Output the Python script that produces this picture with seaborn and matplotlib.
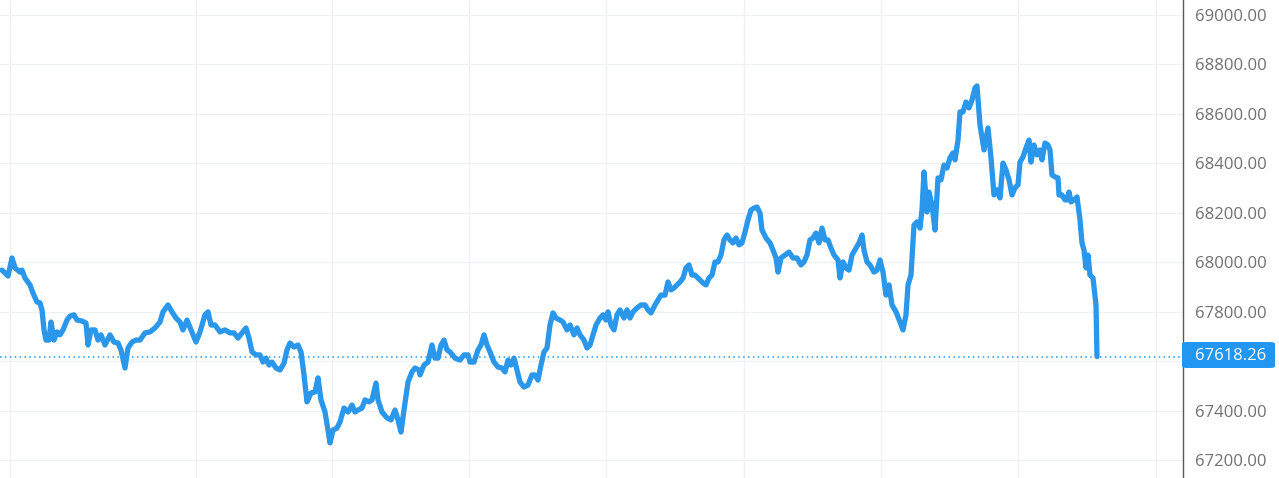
import matplotlib
matplotlib.use("Agg")
import matplotlib.pyplot as plt
from matplotlib.patches import FancyBboxPatch
import seaborn as sns
import pandas as pd

# ---- data (time index, price) ----
t = [2, 8, 12, 15, 20, 22, 25, 30, 33, 37, 40, 42, 44, 46, 49, 51, 54, 57, 60, 63,
     67, 70, 74, 77, 82, 86, 88, 91, 95, 98, 101, 105, 110, 114, 118, 121, 125, 128, 132, 136,
     140, 145, 150, 155, 160, 163, 168, 172, 176, 180, 183, 187, 191, 196, 200, 205, 208, 211, 215, 220,
     225, 230, 234, 238, 242, 246, 249, 252, 256, 260, 263, 266, 269, 272, 276,
     280, 284, 287, 290, 294, 298, 301, 304, 307, 311, 315, 318, 321, 325, 328, 330, 333, 337, 340, 344,
     348, 352, 355, 358, 362, 365, 369, 372, 376, 378, 382, 387, 391, 395, 398, 401, 404, 408, 412, 415, 419,
     420, 424, 428, 432, 435, 438, 441, 444, 447, 450, 455, 460, 464, 468, 470, 474, 478, 481, 484, 487,
     490, 494, 498, 502, 505, 508, 511, 514, 517, 520, 524, 528, 532, 535, 538, 541, 544, 547, 550, 553, 556,
     560, 563, 567, 570, 574, 577, 580, 584, 587, 590, 593, 596, 600, 603, 606, 608, 611, 614, 617, 620,
     624, 627, 630, 633, 637, 641, 645, 648, 651, 655, 658, 661, 665, 668, 671, 674, 677, 680, 683, 686,
     689, 692, 695, 698,
     700, 703, 706, 709, 712, 715, 718, 721, 724, 727, 730, 733, 736, 739, 742, 745, 748, 751, 754, 757,
     760, 762, 766, 770, 773, 776, 778, 781, 785, 789, 793, 797, 801, 804, 807, 810, 813, 816, 819, 822,
     825, 828, 831, 834, 838,
     840, 843, 846, 849, 852, 856, 859, 862, 864, 867, 870, 874, 877, 880, 883, 886, 889, 892, 896, 900,
     903, 906, 908, 911, 914, 917, 920, 922, 924, 927, 929, 932, 935, 938, 941, 944, 947, 950, 953, 955,
     958, 960, 963, 966, 969, 972, 975, 977, 980,
     984, 988, 991, 994, 997, 1000, 1003, 1006, 1009, 1012, 1015, 1018, 1020, 1023, 1026, 1029, 1031, 1034,
     1037, 1040, 1042, 1045, 1048, 1050, 1052, 1055, 1058, 1059, 1062, 1065, 1067, 1069, 1071, 1074, 1077,
     1080, 1082, 1084, 1086, 1088, 1090, 1093, 1096, 1097]

price = [67968, 67944, 68017, 67977, 67960, 67968, 67936, 67908, 67875, 67839, 67835, 67807, 67726, 67685, 67685, 67758, 67685, 67718, 67706, 67726,
         67766, 67782, 67787, 67766, 67762, 67754, 67665, 67726, 67726, 67685, 67706, 67665, 67706, 67677, 67673, 67645, 67572, 67653, 67677, 67685,
         67685, 67714, 67718, 67734, 67758, 67799, 67827, 67799, 67774, 67758, 67726, 67766, 67726, 67677, 67718, 67787, 67799, 67746, 67746, 67718,
         67726, 67714, 67714, 67693, 67714, 67734, 67693, 67637, 67625, 67625, 67596, 67612, 67584, 67596, 67572,
         67564, 67592, 67645, 67673, 67657, 67665, 67637, 67544, 67435, 67471, 67475, 67532, 67443, 67394, 67321, 67269, 67321, 67329, 67354, 67410,
         67394, 67422, 67394, 67402, 67410, 67443, 67435, 67443, 67511, 67443, 67394, 67370, 67362, 67402, 67362, 67313, 67402, 67515, 67556, 67572, 67564,
         67544, 67584, 67596, 67665, 67612, 67612, 67665, 67685, 67645, 67637, 67612, 67604, 67625, 67625, 67596, 67596, 67645, 67665, 67706, 67665,
         67637, 67596, 67576, 67572, 67556, 67604, 67584, 67612, 67564, 67515, 67495, 67503, 67544, 67544, 67523, 67584, 67637, 67653, 67746, 67795, 67774,
         67766, 67758, 67726, 67746, 67706, 67734, 67706, 67685, 67653, 67665, 67706, 67746, 67774, 67787, 67766, 67799, 67746, 67726, 67787, 67807,
         67774, 67807, 67774, 67799, 67815, 67827, 67827, 67807, 67795, 67827, 67847, 67867, 67867, 67920, 67888, 67896, 67908, 67920, 67936, 67977,
         67989, 67948, 67948, 67936,
         67928, 67916, 67908, 67936, 67948, 68001, 68001, 68029, 68090, 68110, 68090, 68078, 68098, 68070, 68078, 68122, 68171, 68211, 68219, 68223,
         68199, 68130, 68098, 68078, 68049, 68017, 67960, 68017, 68029, 68041, 68017, 68017, 67989, 68001, 68029, 68090, 68098, 68118, 68078, 68138,
         68090, 68090, 68057, 68029, 68009,
         67936, 68001, 67977, 67968, 68029, 68057, 68078, 68110, 68049, 68001, 67989, 67960, 67968, 68009, 67960, 67867, 67908, 67827, 67799, 67758,
         67726, 67787, 67908, 67948, 68150, 68163, 68138, 68211, 68365, 68203, 68284, 68231, 68130, 68341, 68333, 68393, 68381, 68422, 68442, 68414,
         68494, 68608, 68608, 68648, 68624, 68656, 68705, 68713, 68555,
         68454, 68543, 68422, 68272, 68293, 68260, 68401, 68373, 68333, 68272, 68301, 68313, 68405, 68426, 68462, 68494, 68405, 68474,
         68434, 68454, 68414, 68482, 68474, 68454, 68353, 68345, 68341, 68272, 68272, 68252, 68252, 68284, 68244, 68252, 68264,
         68171, 68078, 68049, 67977, 68029, 67948, 67936, 67827, 67618.26]

last_price = 67618.26
y_ticks = [67200, 67400, 67600, 67800, 68000, 68200, 68400, 68600, 68800, 69000]
# the 67600 label is covered by the last-price marker in the reference
y_tick_labels = ["" if v == 67600 else f"{v:.2f}" for v in y_ticks]
x_grid = [10, 196, 332, 469, 606, 744, 881, 1018, 1156]

df = pd.DataFrame({"t": t, "price": price})

sns.set_style("white")
plt.rcParams["font.family"] = ["Open Sans", "DejaVu Sans"]

LINE = "#2a97ea"
fig = plt.figure(figsize=(12.79, 4.78), dpi=100)
ax = fig.add_axes([0, 0, 1183 / 1279, 1])

sns.lineplot(data=df, x="t", y="price", ax=ax, color=LINE, linewidth=3.8,
             solid_joinstyle="round", solid_capstyle="round", zorder=3)

ax.axhline(last_price, color=LINE, linestyle=(0, (1, 2.2)), linewidth=1.1, zorder=2)

ax.set_xlim(0, 1183)
ax.set_ylim(67127.0, 69060.7)
ax.set_xticks(x_grid)
ax.set_xticklabels([])
ax.set_yticks(y_ticks)
ax.set_yticklabels(y_tick_labels)
ax.yaxis.tick_right()
ax.tick_params(axis="y", length=0, pad=9, labelsize=12, labelcolor="#707070")
ax.tick_params(axis="x", length=0)
ax.grid(True, color="#eff1f4", linewidth=1.0, zorder=0)
ax.set_xlabel("")
ax.set_ylabel("")

for s in ["left", "top", "bottom"]:
    ax.spines[s].set_visible(False)
ax.spines["right"].set_color("#5a5a5a")
ax.spines["right"].set_linewidth(1.0)

# last price label
W, H = 1279, 478
box = FancyBboxPatch((1182 / W, (H - 368) / H), 93 / W, 26 / H,
                     boxstyle="round,pad=0,rounding_size=0.004",
                     transform=fig.transFigure, facecolor="#2196f3",
                     edgecolor="none", zorder=5)
fig.patches.append(box)
fig.text(1195 / W, (H - 355.5) / H, f"{last_price:.2f}", color="white",
         fontsize=12, ha="left", va="center", zorder=6)

fig.savefig("out.png", dpi=100)
